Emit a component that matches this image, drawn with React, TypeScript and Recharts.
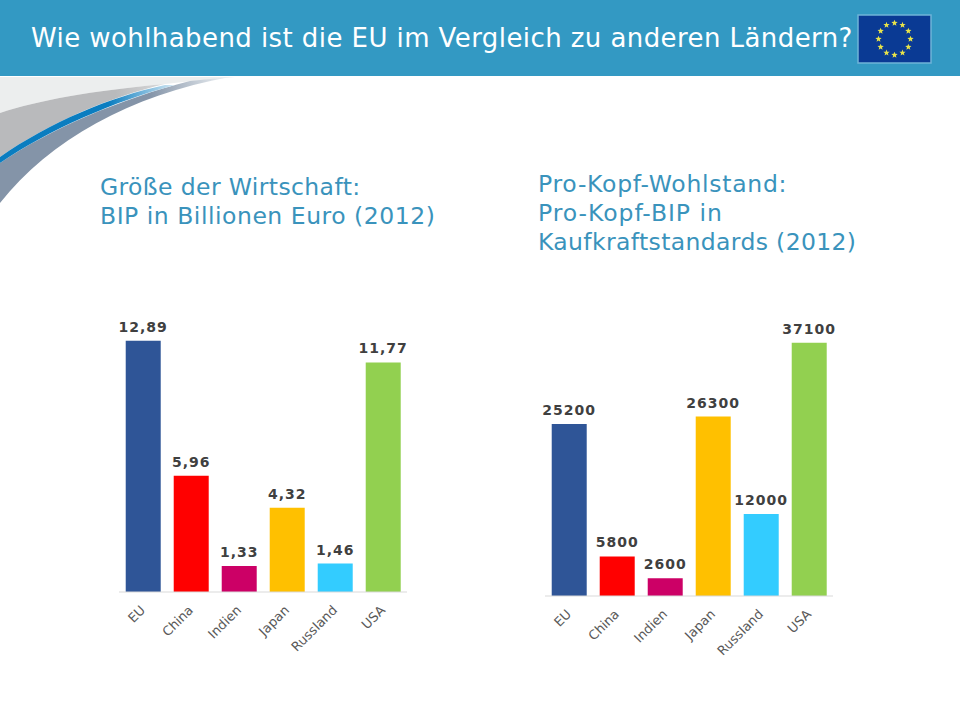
import { BarChart, Bar, XAxis, YAxis, Cell, LabelList } from 'recharts';

const countries = ['EU', 'China', 'Indien', 'Japan', 'Russland', 'USA'];
const barColors = ['#2F5597', '#FF0000', '#CC0066', '#FFC000', '#33CCFF', '#92D050'];
const gdpValues = [12.89, 5.96, 1.33, 4.32, 1.46, 11.77];
const gdpLabels = ['12,89', '5,96', '1,33', '4,32', '1,46', '11,77'];
const perCapitaValues = [25200, 5800, 2600, 26300, 12000, 37100];
const perCapitaLabels = ['25200', '5800', '2600', '26300', '12000', '37100'];

const FONT = '"DejaVu Sans", Verdana, sans-serif';
const TITLE_BLUE = '#3A93BC';

function AngledTick({ x, y, payload }: any) {
  return (
    <text
      transform={`translate(${x + 3},${y + 11}) rotate(-45)`}
      textAnchor="end"
      fontFamily={FONT}
      fontSize={13}
      fill="#595959"
    >
      {payload.value}
    </text>
  );
}

function CountryChart({ values, labels, max, left, top }: { values: number[]; labels: string[]; max: number; left: number; top: number }) {
  const rows = countries.map((name, i) => ({ name, value: values[i], label: labels[i] }));
  return (
    <div style={{ position: 'absolute', left, top }}>
      <BarChart width={328} height={373} data={rows} margin={{ top: 20, right: 20, bottom: 0, left: 20 }} barCategoryGap="14%">
        <XAxis dataKey="name" interval={0} tickLine={false} height={80} stroke="#D9D9D9" tick={<AngledTick />} />
        <YAxis hide domain={[0, max]} />
        <Bar dataKey="value" isAnimationActive={false}>
          {rows.map((r, i) => (
            <Cell key={r.name} fill={barColors[i]} />
          ))}
          <LabelList dataKey="label" position="top" offset={9} fontFamily={FONT} fontSize={14} fontWeight="bold" letterSpacing={1} fill="#404040" />
        </Bar>
      </BarChart>
    </div>
  );
}

function flagStars() {
  const stars = [];
  for (let s = 0; s < 12; s++) {
    const a = (s * Math.PI) / 6;
    const cx = 894.5 + 16 * Math.sin(a);
    const cy = 39 - 16 * Math.cos(a);
    const pts = [];
    for (let k = 0; k < 10; k++) {
      const r = k % 2 ? 1.4 : 3.3;
      const b = (k * Math.PI) / 5;
      pts.push(`${cx + r * Math.sin(b)},${cy - r * Math.cos(b)}`);
    }
    stars.push(<polygon key={s} points={pts.join(' ')} fill="#E8E34A" />);
  }
  return stars;
}

export default function App() {
  return (
    <div style={{ position: 'absolute', left: 0, top: 0, width: 960, height: 720, background: '#fff', overflow: 'hidden' }}>
      <svg width={960} height={720} style={{ position: 'absolute', left: 0, top: 0 }}>
        <defs>
          <linearGradient id="fadeGrey" x1="0" y1="0" x2="1" y2="0">
            <stop offset="0.7" stopColor="#B9BABC" />
            <stop offset="1" stopColor="#D8D9DA" />
          </linearGradient>
          <linearGradient id="fadeBlue" x1="0" y1="0" x2="1" y2="0">
            <stop offset="0.62" stopColor="#0A7DC0" />
            <stop offset="1" stopColor="#D6E9F4" />
          </linearGradient>
          <linearGradient id="fadeSlate" x1="0" y1="0" x2="1" y2="0">
            <stop offset="0.65" stopColor="#8494A8" />
            <stop offset="1" stopColor="#F2F5F7" />
          </linearGradient>
        </defs>
        <rect x={0} y={0} width={960} height={76} fill="#3399C3" />
        <path d="M0,77 L235,77 C215,79 190,81 165,84 C90,91 40,100 0,113 Z" fill="#ECEEEE" />
        <path d="M0,163 C50,129 120,99 190,81 L230,77 C130,95 50,140 0,203 Z" fill="url(#fadeSlate)" />
        <path d="M0,113 C40,100 90,91 165,84 C110,97 50,122 0,157 Z" fill="url(#fadeGrey)" />
        <path d="M0,157 C50,122 110,97 165,85 L175,85 C115,101 50,129 0,163 Z" fill="url(#fadeBlue)" />
        <rect x={858} y={15} width={73} height={48} fill="#0A3A94" stroke="#6FB4D8" strokeWidth={1.5} />
        {flagStars()}
        <text x={31} y={47} fontFamily={FONT} fontSize={26} letterSpacing={0.42} fill="#fff">
          Wie wohlhabend ist die EU im Vergleich zu anderen Ländern?
        </text>
        <g fontFamily={FONT} fontSize={23.5} fill={TITLE_BLUE}>
          <text x={100} y={195} letterSpacing={0.38}>Größe der Wirtschaft:</text>
          <text x={100} y={224} letterSpacing={0.52}>BIP in Billionen Euro (2012)</text>
          <text x={538} y={192} letterSpacing={0.72}>Pro-Kopf-Wohlstand:</text>
          <text x={538} y={221} letterSpacing={0.95}>Pro-Kopf-BIP in</text>
          <text x={538} y={250} letterSpacing={0.36}>Kaufkraftstandards (2012)</text>
        </g>
      </svg>
      <CountryChart values={gdpValues} labels={gdpLabels} max={14} left={99.3} top={299} />
      <CountryChart values={perCapitaValues} labels={perCapitaLabels} max={40000} left={525} top={303} />
    </div>
  );
}
